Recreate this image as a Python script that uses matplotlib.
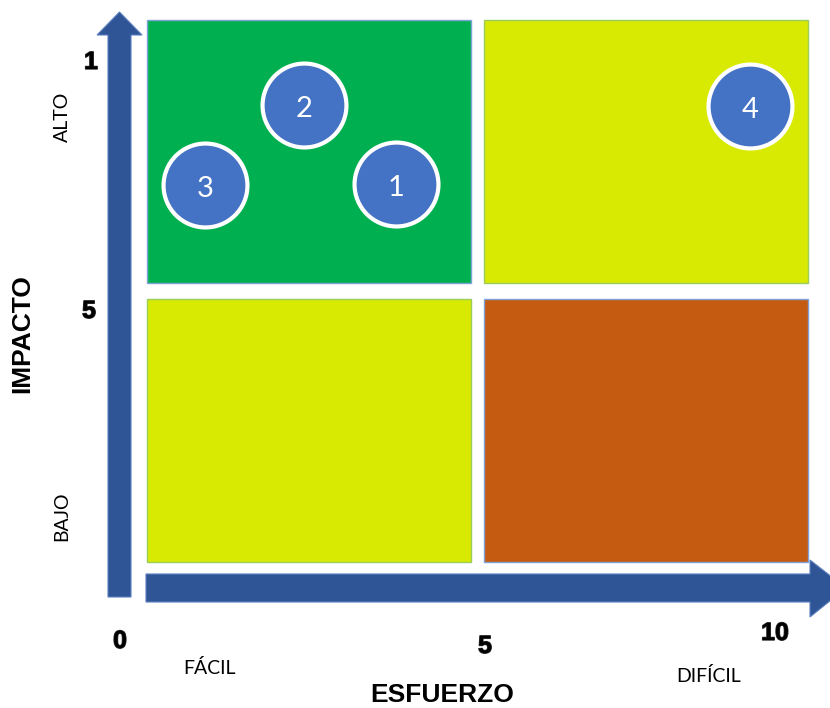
import matplotlib
matplotlib.use("Agg")
import matplotlib.pyplot as plt
from matplotlib.patches import Rectangle, Polygon
import matplotlib.patheffects as pe

# Priority matrix: effort (x) vs impact (y), both on a 0-10 scale
item_labels = ["1", "2", "3", "4"]
item_effort = [3.77, 2.38, 0.88, 9.12]
item_impact = [6.97, 8.43, 6.96, 8.41]

# Quadrant colours: (effort side, impact side) -> colour
quadrant_keys = [("low", "high"), ("high", "high"), ("low", "low"), ("high", "low")]
quadrant_colors = ["#00B050", "#D9EA02", "#D9EA02", "#C55A11"]
quadrant_edges = ["#7FA2D8", "#9ACD5A", "#9ACD5A", "#7FA2D8"]

x_tick_labels = ["0", "5", "10"]
y_tick_labels = ["1", "5"]
x_side_labels = ["FÁCIL", "DIFÍCIL"]
y_side_labels = ["ALTO", "BAJO"]
x_title = "ESFUERZO"
y_title = "IMPACTO"

W, H = 830, 708
fig = plt.figure(figsize=(W / 100, H / 100), dpi=100)
fig.patch.set_facecolor("white")

# Overlay axes in pixel coordinates for arrows and annotations
ov = fig.add_axes([0, 0, 1, 1], zorder=0)
ov.set_xlim(0, W)
ov.set_ylim(H, 0)
ov.axis("off")

arrow_color = "#2F5597"
arrow_edge = "#5B7FC0"
v_arrow = [(108, 597), (131, 597), (131, 35), (142, 35), (119.5, 12),
           (97, 35), (108, 35)]
h_arrow = [(146, 574), (810, 574), (810, 560), (846, 588), (810, 617),
           (810, 602), (146, 602)]
for pts in (v_arrow, h_arrow):
    ov.add_patch(Polygon(pts, closed=True, facecolor=arrow_color,
                         edgecolor=arrow_edge, linewidth=0.8))

num_font = dict(family="Liberation Sans", fontweight="bold", fontsize=18,
                color="black", ha="center", va="center",
                path_effects=[pe.withStroke(linewidth=1.0, foreground="#333333")])
reg_font = dict(family="Lato", fontsize=14, color="black",
                ha="center", va="center")
title_font = dict(family="Liberation Sans", fontweight="bold", fontsize=19,
                  color="black", ha="center", va="center")

# Tick numbers
for lbl, (x, y) in zip(y_tick_labels, [(91, 62), (89, 311)]):
    ov.text(x, y, lbl, **num_font)
for lbl, (x, y) in zip(x_tick_labels, [(120, 641), (485, 646), (775, 633)]):
    ov.text(x, y, lbl, **num_font)

# Side labels
for lbl, (x, y) in zip(x_side_labels, [(209, 668), (709, 676)]):
    ov.text(x, y, lbl, **reg_font)
for lbl, (x, y) in zip(y_side_labels, [(62, 117), (62, 516)]):
    ov.text(x, y, lbl, rotation=90, **reg_font)

ov.text(442, 695, x_title, **title_font)
ov.text(22, 334, y_title, rotation=90, **title_font)

# Data axes covering the quadrant area
ax = fig.add_axes([147 / W, 1 - 562 / H, 661 / W, 542 / H], zorder=1)
ax.set_xlim(0, 10)
ax.set_ylim(0, 10)
ax.axis("off")
ax.patch.set_alpha(0)

mid_x, mid_y = 5.0, 5.0
gap_x, gap_y = 0.1, 0.15
spans_x = {"low": (0.0, mid_x - gap_x), "high": (mid_x + gap_x, 10.0)}
spans_y = {"low": (0.0, mid_y - gap_y), "high": (mid_y + gap_y, 10.0)}
for (kx, ky), fc, ec in zip(quadrant_keys, quadrant_colors, quadrant_edges):
    x0, x1 = spans_x[kx]
    y0, y1 = spans_y[ky]
    ax.add_patch(Rectangle((x0, y0), x1 - x0, y1 - y0, facecolor=fc,
                           edgecolor=ec, linewidth=1.0, clip_on=False))

ax.scatter(item_effort, item_impact, s=3650, facecolor="#4472C4",
           edgecolor="white", linewidth=3.0, zorder=3, clip_on=False)
for lbl, x, y in zip(item_labels, item_effort, item_impact):
    ax.text(x, y - 0.07, lbl, family="Lato", fontsize=21, color="white",
            ha="center", va="center", zorder=4)

fig.savefig("out.png", dpi=100, facecolor="white")
